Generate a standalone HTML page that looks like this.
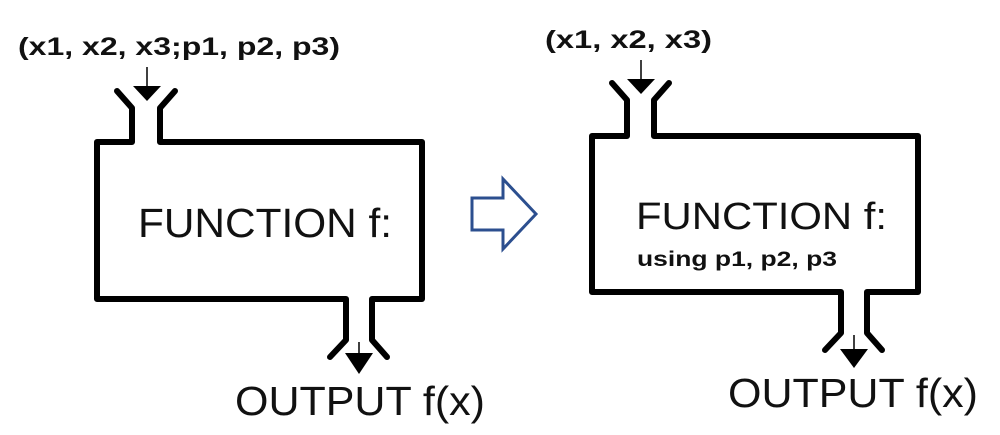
<!DOCTYPE html>
<html><head><meta charset="utf-8"><style>
html,body{margin:0;padding:0;background:#fff;width:1000px;height:435px;overflow:hidden}
svg{display:block}
text{font-family:"Liberation Sans",sans-serif;fill:#111}
</style></head><body>
<svg width="1000" height="435" viewBox="0 0 1000 435">
<g>
  <text x="18" y="55" font-size="25" font-weight="bold" textLength="322" lengthAdjust="spacingAndGlyphs">(x1, x2, x3;p1, p2, p3)</text>
  <path d="M117,91 L132,108 L132,142 L97,142 L97,299 L346,299 L346,340 L330,357 M387,357 L372,340 L372,299 L422,299 L422,142 L160,142 L160,108 L175,91" fill="none" stroke="#000" stroke-width="6" stroke-linejoin="round" stroke-linecap="round"/>
  <line x1="147" y1="67" x2="147" y2="88" stroke="#000" stroke-width="1.5"/>
  <polygon points="133,86 161,86 147,101" fill="#000"/>
  <text x="138" y="237" font-size="41" textLength="254" lengthAdjust="spacingAndGlyphs">FUNCTION f:</text>
  <line x1="359" y1="342" x2="359" y2="356" stroke="#000" stroke-width="1.5"/>
  <polygon points="345,353 373,353 359,374" fill="#000"/>
  <text x="235" y="415" font-size="41" textLength="250" lengthAdjust="spacingAndGlyphs">OUTPUT f(x)</text>
</g>
<g>
  <polygon points="472,198 503,198 503,179 536,214 503,249 503,230 472,230" fill="#fff" stroke="#2c4f8f" stroke-width="3"/>
</g>
<g>
  <text x="545" y="48" font-size="25" font-weight="bold" textLength="167" lengthAdjust="spacingAndGlyphs">(x1, x2, x3)</text>
  <path d="M612,83 L627,100 L627,136 L592,136 L592,292 L841,292 L841,333 L825,350 M882,350 L867,333 L867,292 L918,292 L918,136 L654,136 L654,100 L669,83" fill="none" stroke="#000" stroke-width="6" stroke-linejoin="round" stroke-linecap="round"/>
  <line x1="641" y1="60" x2="641" y2="81" stroke="#000" stroke-width="1.5"/>
  <polygon points="627,79 655,79 641,94" fill="#000"/>
  <text x="636" y="229" font-size="38" textLength="251" lengthAdjust="spacingAndGlyphs">FUNCTION f:</text>
  <text x="637" y="266" font-size="21" font-weight="bold" textLength="200" lengthAdjust="spacingAndGlyphs">using p1, p2, p3</text>
  <line x1="854" y1="335" x2="854" y2="352" stroke="#000" stroke-width="1.5"/>
  <polygon points="840,349 868,349 854,368" fill="#000"/>
  <text x="728" y="407" font-size="41" textLength="250" lengthAdjust="spacingAndGlyphs">OUTPUT f(x)</text>
</g>
</svg>
</body></html>
